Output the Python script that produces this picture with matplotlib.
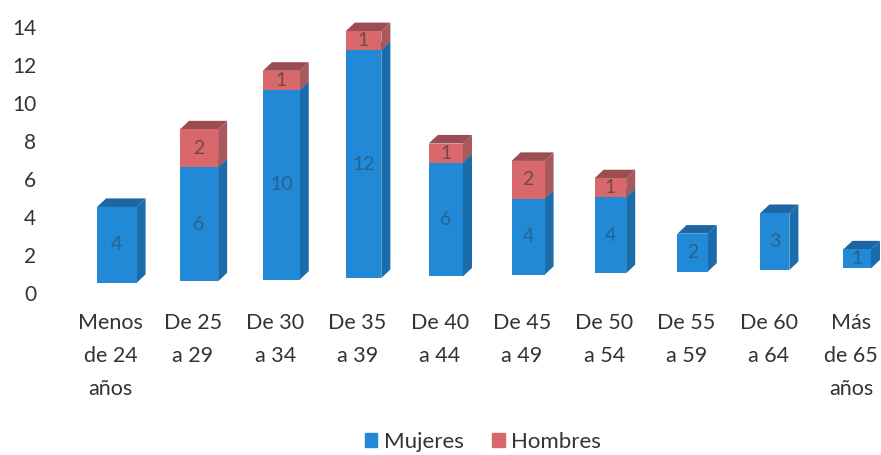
import matplotlib.pyplot as plt
from matplotlib.patches import Polygon
from matplotlib.transforms import ScaledTranslation

plt.rcParams['font.family'] = ['Lato', 'DejaVu Sans']

grupos = ['Menos\nde 24\naños', 'De 25\na 29', 'De 30\na 34', 'De 35\na 39', 'De 40\na 44',
          'De 45\na 49', 'De 50\na 54', 'De 55\na 59', 'De 60\na 64', 'Más\nde 65\naños']
mujeres = [4, 6, 10, 12, 6, 4, 4, 2, 3, 1]
hombres = [0, 2, 1, 1, 1, 2, 1, 0, 0, 0]

# front / side / top shades per series
AZUL = ('#2189d6', '#1a6cab', '#1d66a3')
ROJO = ('#d8686b', '#a9585e', '#9c4d54')

DX, DY = 0.11, 0.45  # depth of the fake 3d extrusion, in data units
TXT = '#333333'

fig = plt.figure(figsize=(8.81, 4.55), dpi=100)
ax = fig.add_axes([60 / 881, 162 / 455, 821 / 881, 283 / 455])


def caja(x, y0, w, h, shades):
    front, side, top = shades
    l, r = x - w / 2, x + w / 2
    ax.bar(x, h, width=w, bottom=y0, color=front, linewidth=0, zorder=3)
    ax.add_patch(Polygon([(r, y0), (r + DX, y0 + DY), (r + DX, y0 + h + DY), (r, y0 + h)],
                         closed=True, color=side, linewidth=0, zorder=2))
    ax.add_patch(Polygon([(l, y0 + h), (l + DX, y0 + h + DY), (r + DX, y0 + h + DY), (r, y0 + h)],
                         closed=True, color=top, linewidth=0, zorder=2))


for i, (m, h) in enumerate(zip(mujeres, hombres)):
    base = 0.53 + 0.085 * i      # bars recede slightly towards the right
    w = 0.48 - 0.016 * i
    caja(i, base, w, m, AZUL)
    ax.text(i, base + m / 2, str(m), ha='center', va='center', fontsize=14,
            color=TXT, alpha=0.45, zorder=4)
    if h:
        caja(i, base + m, w, h, ROJO)
        ax.text(i, base + m + h / 2, str(h), ha='center', va='center', fontsize=14,
                color=TXT, alpha=0.6, zorder=4)

ax.set_xlim(-0.69, 9.29)
ax.set_ylim(0, 14.9)
ax.set_yticks(range(0, 15, 2))
ax.set_xticks(range(len(grupos)))
ax.set_xticklabels(grupos, linespacing=1.8)
ax.tick_params(axis='y', length=0, labelsize=15, labelcolor=TXT, pad=17)
ax.tick_params(axis='x', length=0, labelsize=15.5, labelcolor=TXT, pad=14.5)
shift = ScaledTranslation(-6 / 100, 0, fig.dpi_scale_trans)
for lab in ax.get_xticklabels():
    lab.set_transform(lab.get_transform() + shift)
for s in ax.spines.values():
    s.set_visible(False)

h1 = plt.Rectangle((0, 0), 1, 1, color=AZUL[0])
h2 = plt.Rectangle((0, 0), 1, 1, color=ROJO[0])
fig.legend([h1, h2], ['Mujeres', 'Hombres'], loc='center', bbox_to_anchor=(483 / 881, 1 - 442 / 455),
           ncol=2, frameon=False, fontsize=16, handlelength=0.55, handleheight=0.55,
           handletextpad=0.3, columnspacing=1.3, labelcolor=TXT)

fig.savefig('out.png', dpi=100)
